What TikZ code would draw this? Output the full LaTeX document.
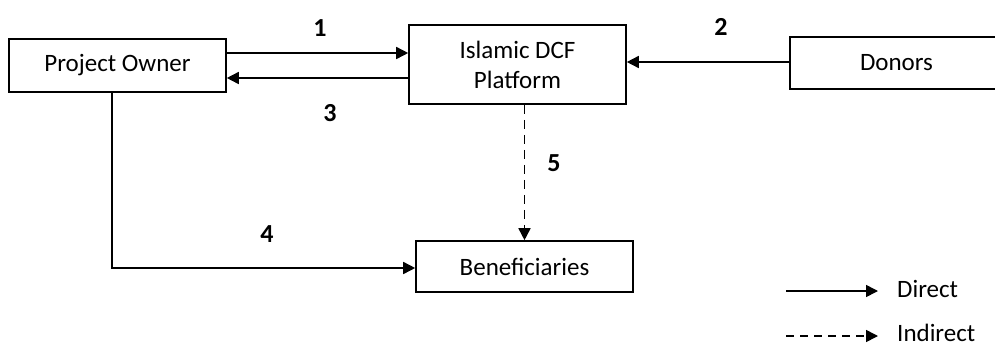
\documentclass[tikz,border=0pt]{standalone}
\usepackage{fontspec}
\setmainfont{Carlito}
\usetikzlibrary{arrows.meta}
\begin{document}
\begin{tikzpicture}[x=1pt,y=-1pt,
  box/.style={draw,line width=1.6pt,inner sep=0pt,font=\fontsize{25}{30}\selectfont,align=center},
  num/.style={font=\bfseries\fontsize{26}{30}\selectfont},
  conn/.style={line width=1.6pt,-{Triangle[length=12pt,width=12pt]}},
  legtext/.style={font=\fontsize{25}{30}\selectfont,anchor=base west,inner sep=0pt}]
\useasboundingbox (0,0) rectangle (995,346);
\clip (0,0) rectangle (995,346);
\node[box,minimum width=217pt,minimum height=53pt] (po) at (117.5,65.5) {Project Owner};
\node[box,minimum width=217pt,minimum height=79pt] (pf) at (517.5,64.5) {Islamic DCF\\Platform};
\node[box,minimum width=230pt,minimum height=52pt,text width=220pt,align=left] (do) at (905,63) {\hspace{65pt}Donors};
\node[box,minimum width=217pt,minimum height=51pt] (be) at (524.5,266.5) {Beneficiaries};
\coordinate (c4) at (112,268);
\draw[conn] (po.east |- 0,53) -- (pf.west |- 0,53);
\draw[conn] (pf.west |- 0,78) -- (po.east |- 0,78);
\draw[conn] (do.west |- 0,62) -- (pf.east |- 0,62);
\draw[conn] (po.south -| c4) -- (c4) -- (be.west |- c4);
\draw[conn,dashed,dash pattern=on 9pt off 6pt] (pf.south -| be.north) -- (be.north);
\node[num] (n1) at (320,28) {1};
\node[num] (n2) at (721,27) {2};
\node[num] (n3) at (330,113) {3};
\node[num] (n4) at (267,234) {4};
\node[num] (n5) at (554,163) {5};
\coordinate (l1a) at (786,291);
\coordinate (l1b) at (878,291);
\coordinate (l2a) at (786,336);
\coordinate (l2b) at (878,336);
\draw[conn] (l1a) -- (l1b);
\draw[conn,dashed,dash pattern=on 8pt off 6pt] (l2a) -- (l2b);
\node[legtext] (ld) at (897,297) {Direct};
\node[legtext] (li) at (897,341) {Indirect};
\end{tikzpicture}
\end{document}
